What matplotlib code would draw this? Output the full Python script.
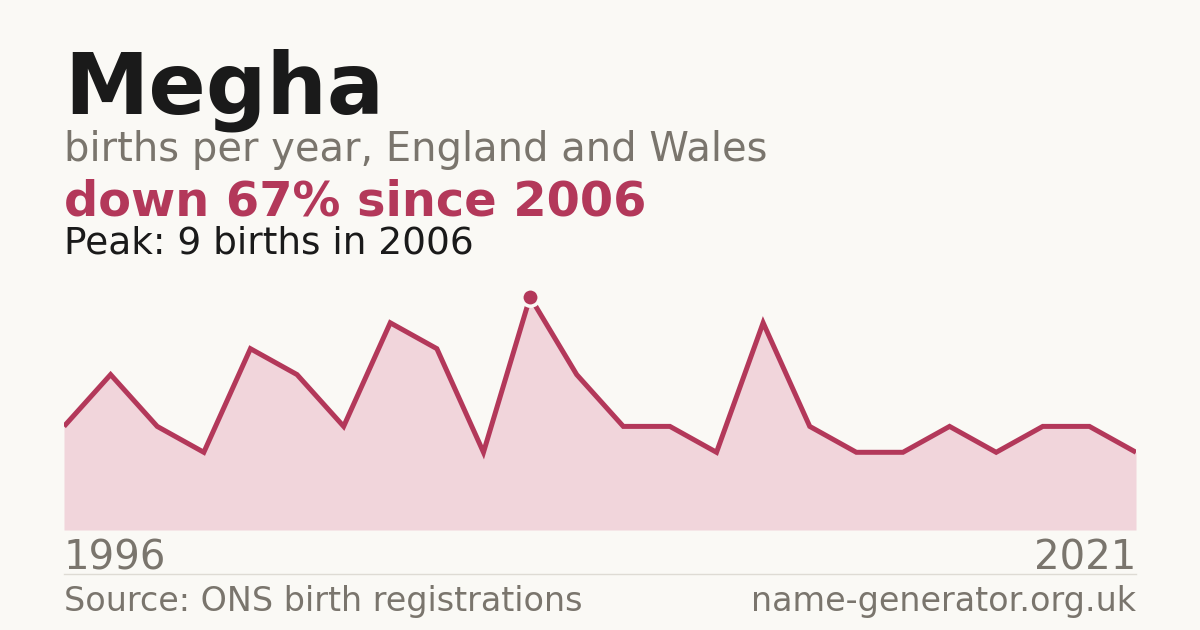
import matplotlib
matplotlib.use("Agg")
import matplotlib.pyplot as plt

# births per year for "Megha" (one value per plotted year, 1996 .. 2021)
counts = [4, 6, 4, 3, 7, 6, 4, 8, 7, 3, 9, 6, 4, 4, 3, 8, 4, 3, 3, 4, 3, 4, 4, 3]
first_year, last_year = "1996", "2021"
peak_idx = 10

name = "Megha"
subtitle = "births per year, England and Wales"
headline = "down 67% since 2006"
peak_note = "Peak: 9 births in 2006"
source = "Source: ONS birth registrations"
site = "name-generator.org.uk"

bg = "#faf9f5"
accent = "#b3385a"
fill = "#f1d5db"
grey = "#7a756d"
dark = "#1a1a1a"

W, H = 1200, 630
fig = plt.figure(figsize=(12, 6.3), dpi=100, facecolor=bg)

def fy(px):
    return 1 - px / H

# chart area
ax = fig.add_axes([64 / W, fy(530), (1136 - 64) / W, (530 - 280) / H])
ax.set_facecolor(bg)
x = list(range(len(counts)))
ax.fill_between(x, counts, 0, color=fill, lw=0)
ax.plot(x, counts, color=accent, lw=3.6, solid_joinstyle="miter", solid_capstyle="butt")
ax.plot(x[peak_idx], counts[peak_idx], "o", ms=12.5, color=accent,
        markeredgecolor=bg, markeredgewidth=2.5, zorder=5)
ax.set_xlim(0, len(counts) - 1)
ax.set_ylim(0, 250 / 25.9)
ax.axis("off")

# texts
fig.text(64 / W, fy(114), name, fontsize=61, fontweight="bold", color=dark, va="baseline")
fig.text(64 / W, fy(161), subtitle, fontsize=28.8, color=grey, va="baseline")
fig.text(64 / W, fy(215), headline, fontsize=34.5, fontweight="bold", color=accent, va="baseline")
fig.text(64 / W, fy(254), peak_note, fontsize=27, color=dark, va="baseline")

fig.text(64 / W, fy(569), first_year, fontsize=29, color=grey, va="baseline")
fig.text(1136 / W, fy(569), last_year, fontsize=29, color=grey, va="baseline", ha="right")

fig.add_artist(plt.Line2D([64 / W, 1136 / W], [fy(574), fy(574)], color="#dedbd4", lw=1))

fig.text(64 / W, fy(611), source, fontsize=24, color=grey, va="baseline")
fig.text(1136 / W, fy(611), site, fontsize=24, color=grey, va="baseline", ha="right")

fig.savefig("out.png", dpi=100, facecolor=bg)
